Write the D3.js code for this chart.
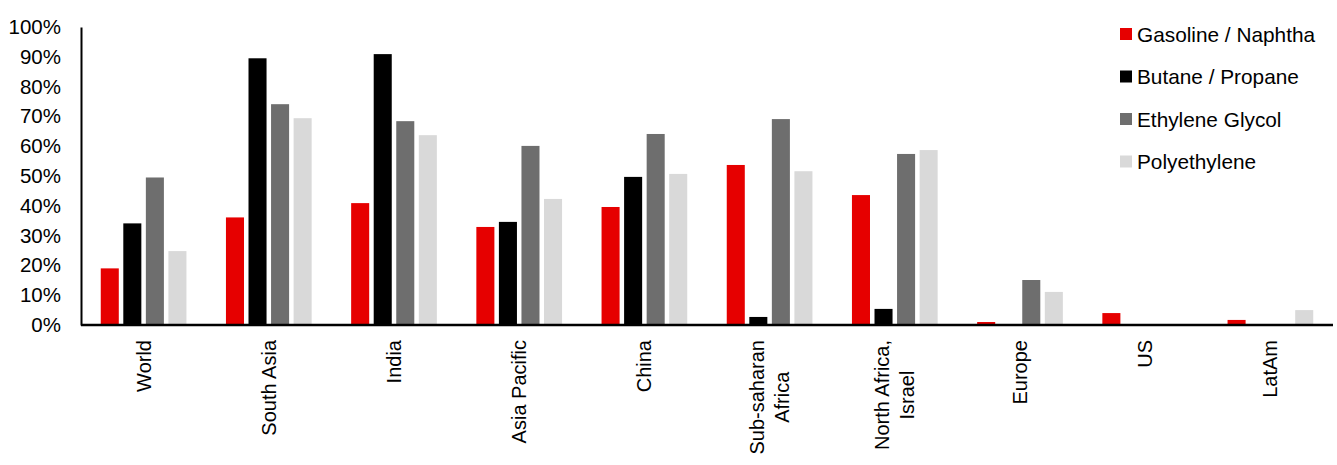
<!DOCTYPE html>
<html>
<head>
<meta charset="utf-8">
<script src="https://cdn.jsdelivr.net/npm/d3@7"></script>
<style>
  body { margin: 0; background: #fff; }
  svg { display: block; font-family: "Liberation Sans", Arial, sans-serif; }
</style>
</head>
<body>
<div class="chart-wrapper"></div>
<script>
// categories (multi-line labels as arrays)
const categories = [
  ['World'], ['South Asia'], ['India'], ['Asia Pacific'], ['China'],
  ['Sub-saharan', 'Africa'], ['North Africa,', 'Israel'], ['Europe'], ['US'], ['LatAm']
]
const seriesNames = ['Gasoline / Naphtha', 'Butane / Propane', 'Ethylene Glycol', 'Polyethylene']
const seriesColors = ['#e60000', '#000000', '#6e6e6e', '#d9d9d9']

// values in %
const gasoline = [19.0, 36.1, 40.9, 32.9, 39.6, 53.7, 43.6, 1.0, 4.0, 1.7]
const butane = [34.1, 89.5, 90.9, 34.6, 49.7, 2.7, 5.4, 0, 0, 0]
const glycol = [49.5, 74.1, 68.4, 60.1, 64.1, 69.1, 57.4, 15.1, 0, 0]
const polyethylene = [24.8, 69.4, 63.7, 42.3, 50.7, 51.6, 58.7, 11.1, 0, 5.0]

const yTicks = [0, 10, 20, 30, 40, 50, 60, 70, 80, 90, 100]

const allSeries = [gasoline, butane, glycol, polyethylene]

const width = 1337
const height = 465
const margin = {left: 81, right: 4, top: 27, bottom: 140}

const svg = d3.select('.chart-wrapper')
.append('svg')
.attr('width', width)
.attr('height', height)

const keys = categories.map(c => c.join(' '))

const x0 = d3.scaleBand()
.domain(keys)
.range([margin.left, width - margin.right])

const groupGap = 39.5
const x1 = d3.scaleBand()
.domain(d3.range(seriesNames.length))
.range([groupGap / 2, x0.bandwidth() - groupGap / 2])
.paddingInner(0.2)

const y = d3.scaleLinear()
.domain([0, 100])
.range([height - margin.bottom, margin.top])

// bars
const groups = svg.append('g')
.selectAll('g')
.data(keys)
.enter()
.append('g')
.attr('transform', d => `translate(${x0(d)},0)`)

groups.selectAll('rect')
.data((d, i) => allSeries.map((s, j) => ({j, v: s[i]})))
.enter()
.filter(d => d.v > 0)
.append('rect')
.attr('x', d => x1(d.j))
.attr('width', x1.bandwidth())
.attr('y', d => y(d.v))
.attr('height', d => y(0) - y(d.v))
.attr('fill', d => seriesColors[d.j])

// y axis
const yAxis = svg.append('g')
.attr('transform', `translate(${margin.left},0)`)
.call(d3.axisLeft(y).tickValues(yTicks).tickFormat(d => d + '%').tickSize(0).tickPadding(20))

yAxis.select('.domain').attr('stroke', '#000').attr('stroke-width', 2)
yAxis.selectAll('text')
.attr('font-size', 20.5)
.attr('font-family', '"Liberation Sans", Arial, sans-serif')
.attr('fill', '#000')

// x axis line
svg.append('line')
.attr('x1', margin.left)
.attr('x2', width - margin.right)
.attr('y1', y(0))
.attr('y2', y(0))
.attr('stroke', '#000')
.attr('stroke-width', 2.5)

// x labels, rotated, multi-line centred on each other
const labelTop = y(0) + 15
const lineGap = 25
categories.forEach((lines, i) => {
  const cx = x0(keys[i]) + x0.bandwidth() / 2
  const g = svg.append('g')
  const texts = lines.map((l, k) => g.append('text')
    .attr('font-size', 20)
    .attr('fill', '#000')
    .attr('dominant-baseline', 'central')
    .attr('text-anchor', 'middle')
    .text(l))
  const maxLen = d3.max(texts, t => t.node().getComputedTextLength())
  texts.forEach((t, k) => {
    const lx = cx + (k - (lines.length - 1) / 2) * lineGap
    const ly = labelTop + maxLen / 2
    t.attr('transform', `translate(${lx},${ly}) rotate(-90)`)
  })
})

// legend
const legend = svg.append('g')
.attr('transform', 'translate(1120,34)')

const items = legend.selectAll('g')
.data(seriesNames)
.enter()
.append('g')
.attr('transform', (d, i) => `translate(0,${i * 42.5})`)

items.append('rect')
.attr('x', 0)
.attr('y', -6)
.attr('width', 12)
.attr('height', 12)
.attr('fill', (d, i) => seriesColors[i])

items.append('text')
.attr('x', 17)
.attr('y', 0)
.attr('dominant-baseline', 'central')
.attr('font-size', 20.8)
.attr('fill', '#000')
.text(d => d)
</script>
</body>
</html>
